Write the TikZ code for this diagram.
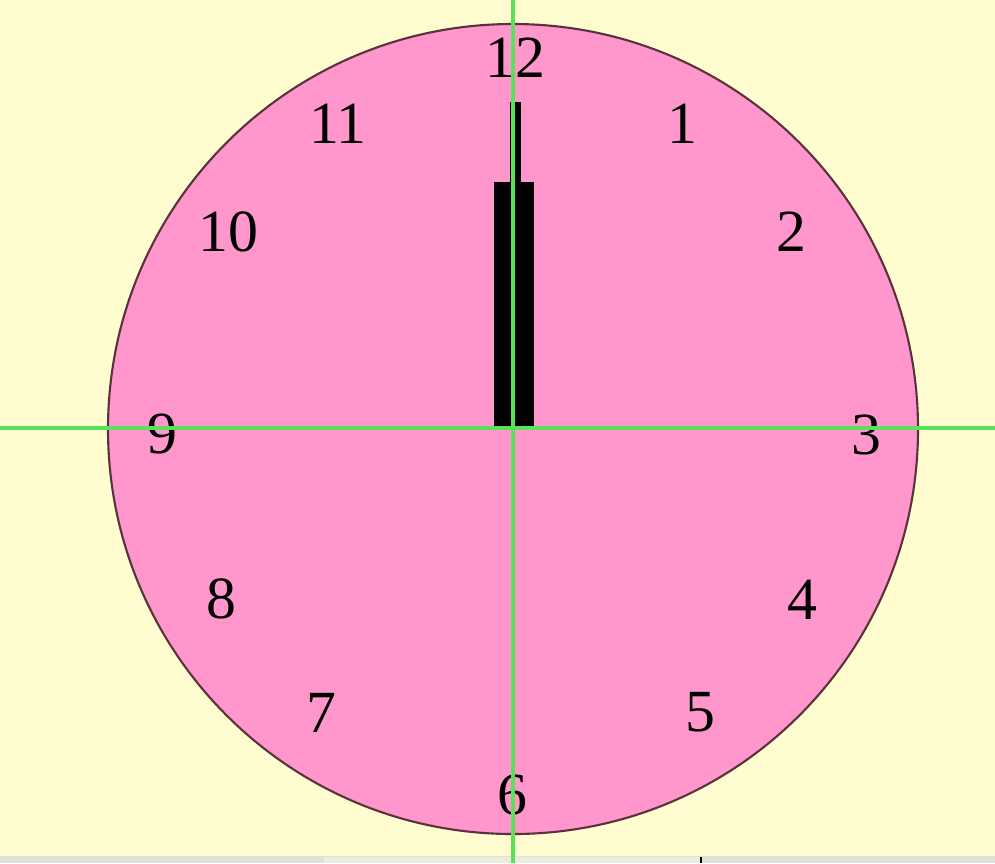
\documentclass[tikz,border=0pt]{standalone}
\usepackage{fontspec}
\setmainfont{Liberation Serif}
\usepackage{xcolor}
\usepackage{tikz}
\usetikzlibrary{positioning}
\definecolor{clockbg}{RGB}{255,252,208}
\definecolor{clockface}{RGB}{255,150,204}
\definecolor{clockrim}{RGB}{90,50,60}
\definecolor{axisgreen}{RGB}{90,225,90}
\definecolor{stripgray}{RGB}{224,224,214}
\definecolor{stripgray2}{RGB}{236,236,222}
\begin{document}
\begin{tikzpicture}[x=0.01cm,y=-0.01cm,every node/.style={font=\fontsize{17}{17}\selectfont}]
\useasboundingbox (0,0) rectangle (995,863);
\fill[clockbg] (0,0) rectangle (995,863);
\fill[stripgray] (0,856) rectangle (995,863);
\fill[stripgray2] (324,857) rectangle (701,863);
\draw[black,thin] (701,857) -- (701,863);
% face
\coordinate (centre) at (513,429);
\draw[clockrim,fill=clockface,line width=0.6pt] (centre) circle (405);
% numerals
\foreach \n/\px/\py in {12/515/58,1/682/124,2/791/232,3/866/435,4/802/600,5/700/712,
  6/512/795,7/321/713,8/221/599,9/162/434,10/228/232,11/338/124}
  \node[inner sep=0pt] (num\n) at (\px,\py) {\n};
% hands
\fill[black] (494,182) rectangle (534,429);
\fill[black] (510,102) rectangle (521,429);
% axes
\coordinate (left) at (0,428);
\coordinate (right) at (995,428);
\coordinate (top) at (513,0);
\coordinate (bottom) at (513,863);
\draw[axisgreen,line width=0.9pt] (left) -- (right);
\draw[axisgreen,line width=0.9pt] (top) -- (bottom);
\end{tikzpicture}
\end{document}
